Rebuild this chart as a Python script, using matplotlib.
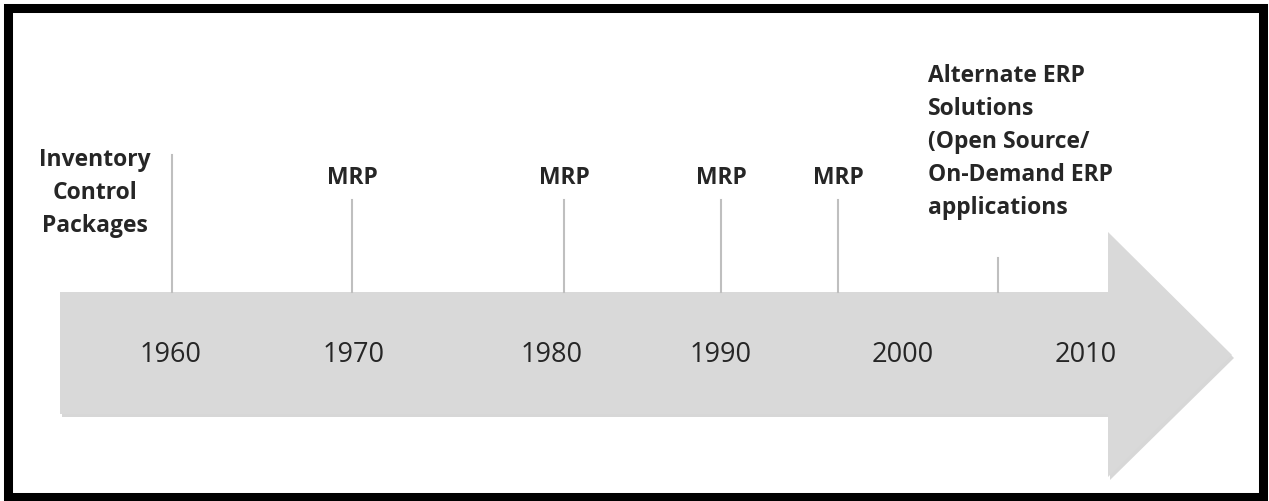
import matplotlib.pyplot as plt
from matplotlib.patches import Polygon, Rectangle

# decade labels on the arrow and where they sit (pixel units)
years = ["1960", "1970", "1980", "1990", "2000", "2010"]
year_x = [171, 354, 552, 721, 903, 1086]

# milestones above the arrow
events = ["Inventory\nControl\nPackages", "MRP", "MRP", "MRP", "MRP",
          "Alternate ERP\nSolutions\n(Open Source/\nOn-Demand ERP\napplications"]
event_x = [172, 352, 564, 721, 838, 998]
line_top = [155, 200, 200, 200, 200, 258]

W, H = 1269, 501
fig = plt.figure(figsize=(W / 100, H / 100), dpi=100)
ax = fig.add_axes([0, 0, 1, 1])
ax.set_xlim(0, W)
ax.set_ylim(H, 0)
ax.axis("off")

# frame
ax.add_patch(Rectangle((8, 8), 1255, 489, fill=False, edgecolor="black", lw=6.5))

# arrow (with a soft shadow)
body_top, body_bot = 292, 414
arrow = [(60, body_top), (1108, body_top), (1108, 232), (1232, 355),
         (1108, 477), (1108, body_bot), (60, body_bot)]
shadow = [(x + 2, y + 3) for x, y in arrow]
ax.add_patch(Polygon(shadow, closed=True, facecolor="#b0b0b0", edgecolor="none", alpha=0.5))
ax.add_patch(Polygon(arrow, closed=True, facecolor="#d9d9d9", edgecolor="none"))

for yr, x in zip(years, year_x):
    ax.text(x, 355, yr, ha="center", va="center", fontsize=19.5,
            family="Open Sans", color="#262626")

# milestone lines and labels
for i, (txt, x) in enumerate(zip(events, event_x)):
    ax.plot([x, x], [line_top[i], body_top], color="#bfbfbf", lw=1.5)
    if i == 0:
        ax.text(95, 193, txt, ha="center", va="center", fontsize=16.5,
                family="Open Sans", weight="bold", color="#262626", linespacing=1.5)
    elif i == len(events) - 1:
        ax.text(928, 142, txt, ha="left", va="center", fontsize=16.5,
                family="Open Sans", weight="bold", color="#262626", linespacing=1.5)
    else:
        ax.text(x, 178, txt, ha="center", va="center", fontsize=16.5,
                family="Open Sans", weight="bold", color="#262626")

fig.savefig("out.png", dpi=100)
